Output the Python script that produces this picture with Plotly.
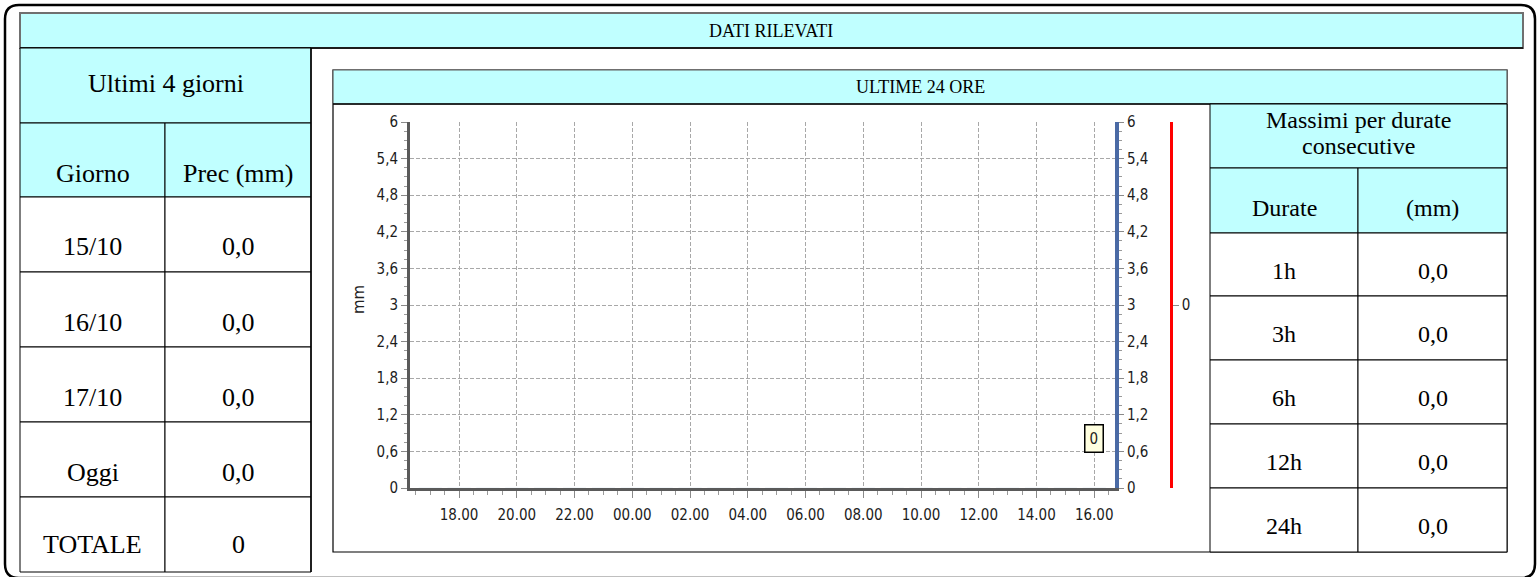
import plotly.graph_objects as go

W, H = 1538, 577

# ---------------- data ----------------
hours = [17, 18, 19, 20, 21, 22, 23, 24, 25, 26, 27, 28, 29, 30, 31, 32,
         33, 34, 35, 36, 37, 38, 39, 40]
rain_mm = [0, 0, 0, 0, 0, 0, 0, 0, 0, 0, 0, 0, 0, 0, 0, 0,
           0, 0, 0, 0, 0, 0, 0, 0]
x_tick_vals = [18, 20, 22, 24, 26, 28, 30, 32, 34, 36, 38, 40]
x_tick_text = ["18.00", "20.00", "22.00", "00.00", "02.00", "04.00",
               "06.00", "08.00", "10.00", "12.00", "14.00", "16.00"]
x_range = [16.3, 40.72]
y_tick_vals = [0, 0.6, 1.2, 1.8, 2.4, 3, 3.6, 4.2, 4.8, 5.4, 6]
y_tick_text = ["0", "0,6", "1,2", "1,8", "2,4", "3", "3,6", "4,2", "4,8", "5,4", "6"]
last_label = "0"

days = ["15/10", "16/10", "17/10", "Oggi", "TOTALE"]
day_prec = ["0,0", "0,0", "0,0", "0,0", "0"]
durations = ["1h", "3h", "6h", "12h", "24h"]
dur_max = ["0,0", "0,0", "0,0", "0,0", "0,0"]

# ---------------- helpers ----------------
def fx(x):
    return x / W

def fy(y):
    return 1 - y / H

CYAN = "#C0FFFF"
shapes = []
annotations = []

def rect(x0, y0, x1, y1, fill="rgba(0,0,0,0)", line="black", lw=1, layer="above"):
    shapes.append(dict(type="rect", xref="paper", yref="paper",
                       x0=fx(x0), x1=fx(x1), y0=fy(y1), y1=fy(y0),
                       fillcolor=fill, line=dict(color=line, width=lw), layer=layer))

def hline(x0, x1, y, color="black", lw=1, layer="above"):
    shapes.append(dict(type="line", xref="paper", yref="paper",
                       x0=fx(x0), x1=fx(x1), y0=fy(y), y1=fy(y),
                       line=dict(color=color, width=lw), layer=layer))

def vline(x, y0, y1, color="black", lw=1, layer="above"):
    shapes.append(dict(type="line", xref="paper", yref="paper",
                       x0=fx(x), x1=fx(x), y0=fy(y0), y1=fy(y1),
                       line=dict(color=color, width=lw), layer=layer))

def text(x, y, s, size=26, family="Liberation Serif", color="black", angle=0):
    annotations.append(dict(xref="paper", yref="paper", x=fx(x), y=fy(y), text=s,
                            showarrow=False, xanchor="center", yanchor="middle",
                            textangle=angle,
                            font=dict(family=family, size=size, color=color)))

# ---------------- outer frame ----------------
L, T, R, B, r = 5, 5, 1535, 578, 14
path = (f"M {fx(L)},{fy(T + r)} Q {fx(L)},{fy(T)} {fx(L + r)},{fy(T)} "
        f"L {fx(R - r)},{fy(T)} Q {fx(R)},{fy(T)} {fx(R)},{fy(T + r)} "
        f"L {fx(R)},{fy(B - r)} Q {fx(R)},{fy(B)} {fx(R - r)},{fy(B)} "
        f"L {fx(L + r)},{fy(B)} Q {fx(L)},{fy(B)} {fx(L)},{fy(B - r)} Z")
shapes.append(dict(type="path", xref="paper", yref="paper", path=path,
                   line=dict(color="black", width=2.5), fillcolor="rgba(0,0,0,0)",
                   layer="below"))

# ---------------- header ----------------
rect(20, 13, 1523, 48, fill=CYAN, line="#707070", lw=2)
hline(20, 1523, 48, color="black", lw=1.5)
text(771, 31, "DATI RILEVATI", size=18)

# ---------------- left table ----------------
lx0, lxm, lx1 = 20, 165, 311
rows_l = [48, 123, 197, 272, 347, 422, 497, 572]
rect(lx0, rows_l[0], lx1, rows_l[1], fill=CYAN)
rect(lx0, rows_l[1], lxm, rows_l[2], fill=CYAN)
rect(lxm, rows_l[1], lx1, rows_l[2], fill=CYAN)
for i in range(2, 7):
    rect(lx0, rows_l[i], lxm, rows_l[i + 1], fill="white")
    rect(lxm, rows_l[i], lx1, rows_l[i + 1], fill="white")
vline(lx1, 48, 572, lw=1.5)
text((lx0 + lx1) / 2, 83, "Ultimi 4 giorni")
text((lx0 + lxm) / 2, 173, "Giorno")
text((lxm + lx1) / 2, 173, "Prec (mm)")
for i, (d, p) in enumerate(zip(days, day_prec)):
    yc = rows_l[i + 2] + 50 - (1 if i == 4 else 0) * 3
    text((lx0 + lxm) / 2, yc, d)
    text((lxm + lx1) / 2, yc, p)

# ---------------- chart panel ----------------
rect(333, 70, 1507, 552, fill="white", line="black", lw=1.2, layer="below")
rect(333, 70, 1507, 104, fill=CYAN, line="#606060", lw=1.2)
hline(333, 1507, 104, color="black", lw=1.5)
text(920, 87, "ULTIME 24 ORE", size=18)
text(359, 300, "mm", size=15, family="DejaVu Sans", color="#222", angle=-90)

# ---------------- right table ----------------
rx0, rxm, rx1 = 1210, 1358, 1507
rows_r = [104, 168, 233, 296, 360, 424, 488, 552]
rect(rx0, rows_r[0], rx1, rows_r[1], fill=CYAN)
rect(rx0, rows_r[1], rxm, rows_r[2], fill=CYAN)
rect(rxm, rows_r[1], rx1, rows_r[2], fill=CYAN)
for i in range(2, 7):
    rect(rx0, rows_r[i], rxm, rows_r[i + 1], fill="white")
    rect(rxm, rows_r[i], rx1, rows_r[i + 1], fill="white")
text((rx0 + rx1) / 2, 120, "Massimi per durate", size=24)
text((rx0 + rx1) / 2, 146, "consecutive", size=24)
text((rx0 + rxm) / 2, 208, "Durate", size=24)
text((rxm + rx1) / 2, 208, "(mm)", size=24)
for i, (d, v) in enumerate(zip(durations, dur_max)):
    yc = rows_r[i + 2] + 38
    text((rx0 + rxm) / 2, yc, d, size=24)
    text((rxm + rx1) / 2, yc, v, size=24)

# ---------------- chart ----------------
TICKFONT = dict(family="DejaVu Sans Condensed, DejaVu Sans", size=15, color="#1c1c1c")
GRID = "#A8A8A8"
GDASH = "4px,2px"

fig = go.Figure()
fig.add_trace(go.Bar(x=hours, y=rain_mm, marker_color="#4A6AA5", width=0.8,
                     hoverinfo="skip", showlegend=False))
fig.add_trace(go.Scatter(x=hours, y=rain_mm, yaxis="y2", mode="lines",
                         line=dict(width=0, color="rgba(0,0,0,0)"),
                         hoverinfo="skip", showlegend=False))
fig.add_trace(go.Scatter(x=hours, y=rain_mm, yaxis="y3", mode="lines",
                         line=dict(width=0, color="rgba(0,0,0,0)"),
                         hoverinfo="skip", showlegend=False))

# value label of the last bar
annotations.append(dict(xref="x", yref="y", x=hours[-1], y=rain_mm[-1], yshift=50,
                        text=last_label, showarrow=False, bgcolor="#FFFFE0",
                        bordercolor="black", borderwidth=1.5, borderpad=4,
                        font=dict(family="DejaVu Sans Condensed, DejaVu Sans",
                                  size=15, color="#1c1c1c")))

xdom = [fx(410), fx(1115)]
ydom = [fy(488), fy(122)]

fig.update_layout(
    width=W, height=H,
    margin=dict(l=0, r=0, t=0, b=0, pad=0),
    paper_bgcolor="white",
    plot_bgcolor="rgba(0,0,0,0)",
    showlegend=False,
    separators=",.",
    xaxis=dict(domain=xdom, range=x_range, tickmode="array",
               tickvals=x_tick_vals, ticktext=x_tick_text, automargin=False,
               showgrid=True, gridcolor=GRID, griddash=GDASH, gridwidth=1,
               zeroline=False, showline=True, linecolor="#5a5a5a", linewidth=3,
               ticks="outside", ticklen=7, tickcolor="#8a8a8a", tickwidth=1,
               ticklabelstandoff=4,
               minor=dict(tickmode="linear", tick0=0, dtick=0.5, ticks="outside",
                          ticklen=4, tickcolor="#9a9a9a", showgrid=False),
               tickfont=TICKFONT, fixedrange=True),
    yaxis=dict(domain=ydom, range=[0, 6], tickmode="array", automargin=False,
               tickvals=y_tick_vals, ticktext=y_tick_text,
               showgrid=True, gridcolor=GRID, griddash=GDASH, gridwidth=1,
               zeroline=False, showline=True, linecolor="#5a5a5a", linewidth=3,
               ticks="outside", ticklen=6, tickcolor="#8a8a8a", tickwidth=1,
               minor=dict(tickmode="linear", tick0=0, dtick=0.15, ticks="outside",
                          ticklen=3, tickcolor="#9a9a9a", showgrid=False),
               tickfont=TICKFONT, fixedrange=True),
    yaxis2=dict(domain=ydom, overlaying="y", side="right", anchor="x",
                range=[0, 6], tickmode="array", tickvals=y_tick_vals,
                ticktext=y_tick_text, showgrid=False, zeroline=False,
                automargin=False,
                showline=True, linecolor="#4A6AA5", linewidth=4,
                ticks="outside", ticklen=5, tickcolor="#8a8a8a",
                minor=dict(tickmode="linear", tick0=0, dtick=0.15, ticks="outside",
                           ticklen=3, tickcolor="#9a9a9a", showgrid=False),
                tickfont=TICKFONT, fixedrange=True),
    yaxis3=dict(domain=ydom, overlaying="y", side="right", anchor="free",
                position=fx(1171), range=[-1, 1], tickmode="array",
                tickvals=[0], ticktext=["0"], showgrid=False, zeroline=False,
                automargin=False,
                showline=True, linecolor="red", linewidth=2.5,
                ticks="outside", ticklen=6, tickcolor="#8a8a8a",
                tickfont=TICKFONT, fixedrange=True),
    shapes=shapes,
    annotations=annotations,
)

fig.write_html("out.html", config={"displayModeBar": False},
               post_script="document.body.style.margin='0';document.body.style.overflow='hidden';")
